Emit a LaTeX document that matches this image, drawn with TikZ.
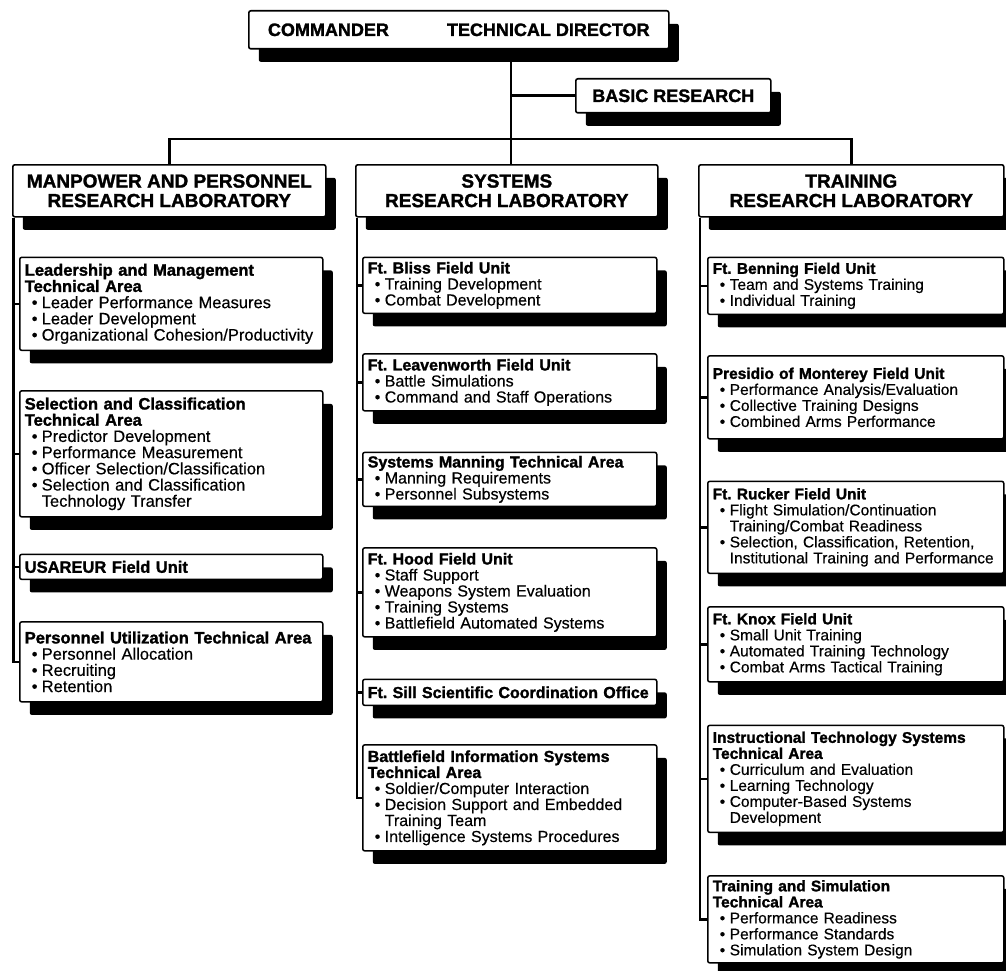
\documentclass[tikz,border=0pt]{standalone}
\usepackage{fontspec}
\setmainfont{Liberation Sans}[UprightFeatures={FakeBold=0.4}, BoldFeatures={FakeBold=1.5}]
\usetikzlibrary{positioning, shadows}
\frenchspacing
\tikzstyle{headbox} = [rectangle, rounded corners=2pt,
anchor=north west,
draw=black, line width=1.6pt,
fill=white,
drop shadow={shadow xshift=10pt, shadow yshift=-13pt, fill=black, opacity=1},
inner sep=0pt,
font=\fontsize{18}{19}\selectfont\bfseries]
\tikzstyle{labbox} = [headbox,
minimum height=52pt,
align=center,
font=\fontsize{19}{19.5}\selectfont\bfseries]
\tikzstyle{unitbox} = [rectangle, rounded corners=2pt,
draw=black, line width=1.5pt,
fill=white,
drop shadow={shadow xshift=10pt, shadow yshift=-13pt, fill=black, opacity=1},
inner xsep=5pt, inner ysep=3pt,
align=left]
\tikzstyle{lcol} = [unitbox, text width=293pt, font=\fontsize{16.5}{16.2}\selectfont] % left column
\tikzstyle{mcol} = [unitbox, text width=284pt, font=\fontsize{16}{16}\selectfont]
\tikzstyle{rcol} = [unitbox, text width=286pt, font=\fontsize{15.5}{16}\selectfont]
\tikzstyle{line} = [line width=2.6pt]
\newcommand{\bul}[1]{\mbox{\hspace*{7pt}\makebox[10pt][l]{\textbullet}#1}}
\newcommand{\cnt}[1]{\mbox{\hspace*{17pt}#1}}
\begin{document}
\begin{tikzpicture}[x=1pt, y=1pt]
		\useasboundingbox (0,0) rectangle (1006,-971);
		\node (cmd) [headbox, minimum width=420pt, minimum height=38pt] at (248,-10) {COMMANDER\hspace{58pt}TECHNICAL DIRECTOR};
		\node (basic) [headbox, minimum width=195pt, minimum height=34pt] at (575,-78) {BASIC RESEARCH};
		\node (mprl) [labbox, minimum width=313pt] at (12,-164) {MANPOWER AND PERSONNEL\\RESEARCH LABORATORY};
		\node (srl) [labbox, minimum width=302pt] at (355,-164) {SYSTEMS\\RESEARCH LABORATORY};
		\node (trl) [labbox, minimum width=305pt] at (698,-164) {TRAINING\\RESEARCH LABORATORY};
	
		% manpower and personnel
		\node (lead) [lcol, minimum height=93pt, below=39pt of mprl.south west, anchor=north west, xshift=7pt] {\textbf{Leadership and Management}\\\textbf{Technical Area}\\\bul{Leader Performance Measures}\\\bul{Leader Development}\\\bul{Organizational Cohesion/Productivity}};
		\node (sel) [lcol, minimum height=126pt, below=39pt of lead.south west, anchor=north west] {\textbf{Selection and Classification}\\\textbf{Technical Area}\\\bul{Predictor Development}\\\bul{Performance Measurement}\\\bul{Officer Selection/Classification}\\\bul{Selection and Classification}\\\cnt{Technology Transfer}};
		\node (usa) [lcol, minimum height=25pt, below=36pt of sel.south west, anchor=north west] {\textbf{USAREUR Field Unit}};
		\node (pu) [lcol, minimum height=80pt, below=41pt of usa.south west, anchor=north west] {\textbf{Personnel Utilization Technical Area}\\\bul{Personnel Allocation}\\\bul{Recruiting}\\\bul{Retention}};
	
		% systems
		\node (bliss) [mcol, minimum height=56pt, below=39pt of srl.south west, anchor=north west, xshift=7pt] {\textbf{Ft. Bliss Field Unit}\\\bul{Training Development}\\\bul{Combat Development}};
		\node (leav) [mcol, minimum height=57pt, below=39pt of bliss.south west, anchor=north west] {\textbf{Ft. Leavenworth Field Unit}\\\bul{Battle Simulations}\\\bul{Command and Staff Operations}};
		\node (sysm) [mcol, minimum height=54pt, below=40pt of leav.south west, anchor=north west] {\textbf{Systems Manning Technical Area}\\\bul{Manning Requirements}\\\bul{Personnel Subsystems}};
		\node (hood) [mcol, minimum height=89pt, below=40pt of sysm.south west, anchor=north west] {\textbf{Ft. Hood Field Unit}\\\bul{Staff Support}\\\bul{Weapons System Evaluation}\\\bul{Training Systems}\\\bul{Battlefield Automated Systems}};
		\node (sill) [mcol, minimum height=26pt, below=41pt of hood.south west, anchor=north west] {\textbf{Ft. Sill Scientific Coordination Office}};
		\node (bis) [mcol, minimum height=106pt, below=38pt of sill.south west, anchor=north west] {\textbf{Battlefield Information Systems}\\\textbf{Technical Area}\\\bul{Soldier/Computer Interaction}\\\bul{Decision Support and Embedded}\\\cnt{Training Team}\\\bul{Intelligence Systems Procedures}};
	
		% training
		\node (benn) [rcol, minimum height=57pt, below=39pt of trl.south west, anchor=north west, xshift=9pt] {\textbf{Ft. Benning Field Unit}\\\bul{Team and Systems Training}\\\bul{Individual Training}};
		\node (pres) [rcol, minimum height=83pt, below=40pt of benn.south west, anchor=north west] {\textbf{Presidio of Monterey Field Unit}\\\bul{Performance Analysis/Evaluation}\\\bul{Collective Training Designs}\\\bul{Combined Arms Performance}};
		\node (ruck) [rcol, minimum height=92pt, below=41pt of pres.south west, anchor=north west] {\textbf{Ft. Rucker Field Unit}\\\bul{Flight Simulation/Continuation}\\\cnt{Training/Combat Readiness}\\\bul{Selection, Classification, Retention,}\\\cnt{Institutional Training and Performance}};
		\node (knox) [rcol, minimum height=75pt, below=32pt of ruck.south west, anchor=north west] {\textbf{Ft. Knox Field Unit}\\\bul{Small Unit Training}\\\bul{Automated Training Technology}\\\bul{Combat Arms Tactical Training}};
		\node (inst) [rcol, minimum height=107pt, below=42pt of knox.south west, anchor=north west] {\textbf{Instructional Technology Systems}\\\textbf{Technical Area}\\\bul{Curriculum and Evaluation}\\\bul{Learning Technology}\\\bul{Computer-Based Systems}\\\cnt{Development}};
		\node (tsim) [rcol, minimum height=87pt, below=42pt of inst.south west, anchor=north west] {\textbf{Training and Simulation}\\\textbf{Technical Area}\\\bul{Performance Readiness}\\\bul{Performance Standards}\\\bul{Simulation System Design}};
	
		\coordinate (hub) at (511,-139);
		\draw [line] (hub) -- (hub |- cmd.south);
		\draw [line] (hub |- basic.west) -- (basic.west);
		\draw [line] (mprl.north) |- (hub) -| (trl.north);
		\draw [line] (hub) -- (hub |- srl.north);
	
		\coordinate (mt) at ([xshift=1.5pt]mprl.south west);
		\coordinate (st) at ([xshift=2pt]srl.south west);
		\coordinate (tt) at ([xshift=2pt]trl.south west);
		\draw [line] (mt) |- (pu.west);
		\foreach \n in {lead, sel, usa}
			\draw [line] (mt |- \n.west) -- (\n.west);
		\draw [line] (st) |- (bis.west);
		\foreach \n in {bliss, leav, sysm, hood, sill}
			\draw [line] (st |- \n.west) -- (\n.west);
		\draw [line] (tt) |- (tsim.west);
		\foreach \n in {benn, pres, ruck, knox, inst}
			\draw [line] (tt |- \n.west) -- (\n.west);
	\end{tikzpicture}
\end{document}
